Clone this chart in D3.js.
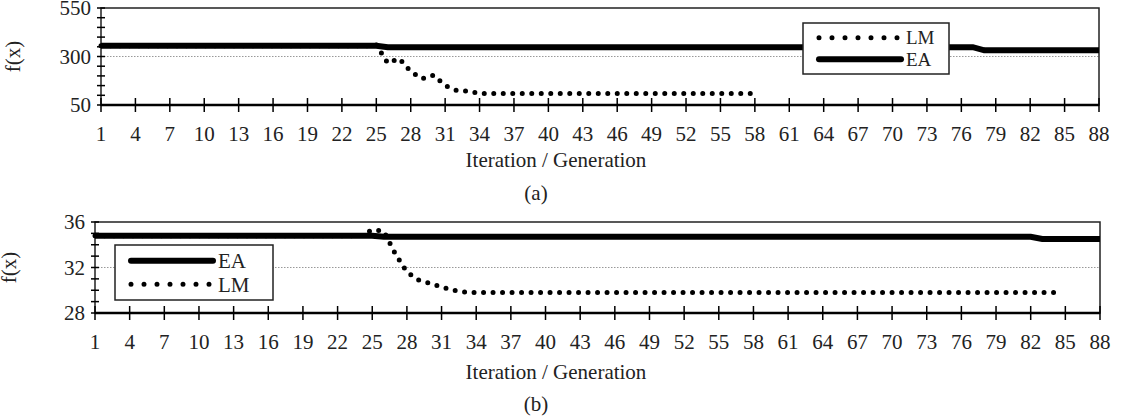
<!DOCTYPE html>
<html><head><meta charset="utf-8">
<script src="https://cdn.jsdelivr.net/npm/d3@7"></script>
<style>body{margin:0;background:#fff}svg{font-family:"Liberation Serif","Times New Roman",serif}</style>
</head><body><svg id="c" width="1128" height="418"></svg>
<script>
const iterations = d3.range(1, 89);
const xTickLabels = d3.range(1, 89, 3);
// Chart (a)
const eaA = iterations.map(i => i <= 25 ? 355 : (i <= 77 ? 348 : 332));
const lmA = [355,355,355,355,355,355,355,355,355,355,355,355,355,355,355,355,355,355,355,355,355,355,355,355,360,
  265,290,222,185,204,150,125,122,109,109,109,109,109,109,109,109,109,109,109,109,109,109,109,109,109,109,109,109,109,109,109,109,109];
const yTicksA = [50, 300, 550];
// Chart (b)
const eaB = iterations.map(i => i <= 25 ? 34.8 : (i <= 82 ? 34.7 : 34.5));
const lmB = [34.8,34.8,34.8,34.8,34.8,34.8,34.8,34.8,34.8,34.8,34.8,34.8,34.8,34.8,34.8,34.8,34.8,34.8,34.8,34.8,34.8,34.8,34.8,34.8,
  35.3,35.2,33.2,31.6,30.9,30.6,30.3,30.0,29.85];
while (lmB.length < 84) lmB.push(29.8);
const yTicksB = [28, 32, 36];

const svg = d3.select("#c");
function panel(o) {
  const x = d3.scaleLinear().domain([1, 88]).range([o.l, o.r]);
  const y = d3.scaleLinear().domain(o.dom).range([o.b, o.t]);
  const g = svg.append("g");
  const fs = 21;
  g.append("line").attr("x1", o.l).attr("x2", o.r).attr("y1", y(o.grid)).attr("y2", y(o.grid))
    .attr("stroke", "#999").attr("stroke-width", 1).attr("stroke-dasharray", "1.5 1.5");
  g.append("rect").attr("x", o.l).attr("y", o.t).attr("width", o.r - o.l).attr("height", o.b - o.t)
    .attr("fill", "none").attr("stroke", "#222").attr("stroke-width", 1.5);
  g.selectAll(".ym").data(d3.range(o.dom[0], o.dom[1] + 1e-9, o.minor)).join("line")
    .attr("x1", o.l - 4).attr("x2", o.l + 4).attr("y1", d => y(d)).attr("y2", d => y(d))
    .attr("stroke", "#000").attr("stroke-width", 1.5);
  g.selectAll(".yl").data(o.yt).join("text").attr("x", o.l - 10).attr("y", d => y(d)).attr("dy", "0.35em")
    .attr("text-anchor", "end").attr("font-size", fs).attr("fill", "#222").text(d => d);
  g.append("line").attr("x1", o.l).attr("x2", o.r).attr("y1", o.b).attr("y2", o.b).attr("stroke", "#000").attr("stroke-width", 2.5);
  g.selectAll(".xt").data(xTickLabels).join("line")
    .attr("x1", d => x(d)).attr("x2", d => x(d)).attr("y1", o.b - 7).attr("y2", o.b + 7)
    .attr("stroke", "#000").attr("stroke-width", 1.5);
  g.selectAll(".xl").data(xTickLabels).join("text").attr("x", d => x(d)).attr("y", o.b + 36)
    .attr("text-anchor", "middle").attr("font-size", fs).attr("fill", "#222").text(d => d);
  g.append("text").attr("x", 556).attr("y", o.b + o.ty).attr("text-anchor", "middle")
    .attr("font-size", fs).attr("fill", "#222").text("Iteration / Generation");
  g.append("text").attr("x", 536).attr("y", o.b + o.cy).attr("text-anchor", "middle")
    .attr("font-size", fs).attr("fill", "#222").text(o.cap);
  g.append("text").attr("transform", `translate(${o.fx},${(o.t + o.b) / 2}) rotate(-90)`)
    .attr("text-anchor", "middle").attr("font-size", fs).attr("fill", "#222").text("f(x)");
  const line = d3.line().x((d, i) => x(i + 1)).y(d => y(d));
  g.append("path").attr("d", line(o.lm)).attr("fill", "none").attr("stroke", "#000")
    .attr("stroke-width", 5).attr("stroke-linecap", "round").attr("stroke-dasharray", "0 9.5");
  g.append("path").attr("d", line(o.ea)).attr("fill", "none").attr("stroke", "#000").attr("stroke-width", 6);
  const L = o.leg;
  g.append("rect").attr("x", L.x).attr("y", L.y).attr("width", L.w).attr("height", L.h)
    .attr("fill", "#fff").attr("stroke", "#222").attr("stroke-width", 1.5);
  L.items.forEach((it, k) => {
    const yy = L.y + L.h * (k + 0.5) / 2 + (k === 0 ? 2 : -2);
    const ln = g.append("line").attr("x1", L.x + 16).attr("x2", L.x + L.lw).attr("y1", yy).attr("y2", yy).attr("stroke", "#000");
    if (it === "LM") ln.attr("stroke-width", 5).attr("stroke-linecap", "round").attr("stroke-dasharray", "0 13");
    else ln.attr("stroke-width", 6).attr("stroke-linecap", "round");
    g.append("text").attr("x", L.x + L.lw + 5).attr("y", yy).attr("dy", "0.35em").attr("font-size", L.fs).attr("fill", "#222").text(it);
  });
}
panel({l:101, r:1099, t:8, b:105, dom:[50,550], grid:300, minor:50, yt:yTicksA, ea:eaA, lm:lmA, cap:"(a)",
  fx:20, ty:62, cy:95, leg:{x:803, y:23, w:146, h:51, lw:98, fs:19, items:["LM","EA"]}});
panel({l:95, r:1100, t:222, b:313, dom:[28,36], grid:32, minor:1, yt:yTicksB, ea:eaB, lm:lmB, cap:"(b)",
  fx:16, ty:66, cy:98, leg:{x:115, y:245, w:158, h:55, lw:98, fs:21, items:["EA","LM"]}});
</script></body></html>
